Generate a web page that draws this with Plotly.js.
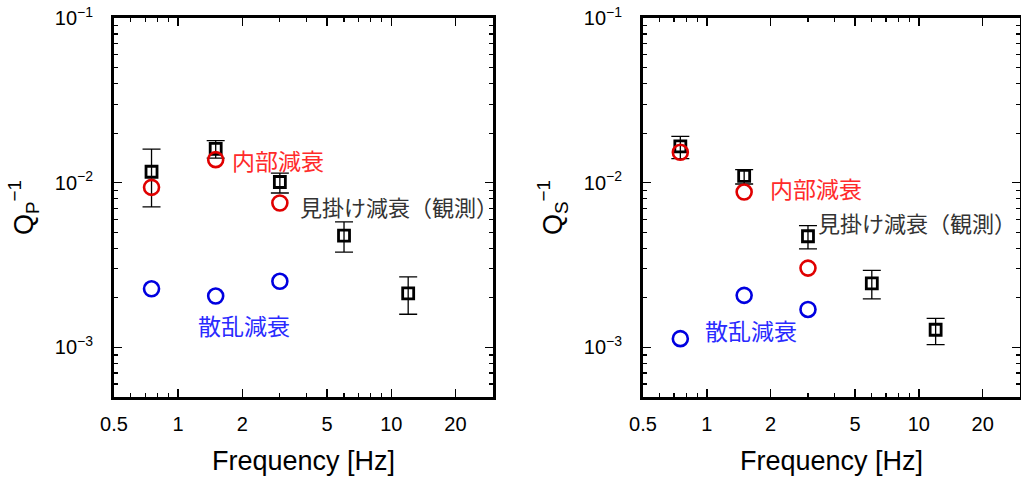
<!DOCTYPE html>
<html>
<head>
<meta charset="utf-8">
<script src="https://cdn.plot.ly/plotly-3.0.1.min.js"></script>
<style>html,body{margin:0;padding:0;background:#fff;}#chart{width:1021px;height:479px;}</style>
</head>
<body>
<div id="chart"></div>
<script>
// ---- data ----
const freqApp = [0.75, 1.5, 3, 6, 12];
const freqSep = [0.75, 1.5, 3];

const qpApp   = [0.01166, 0.01607, 0.0101, 0.00477, 0.00213];
const qpAppHi = [0.0160, 0.0180, 0.01145, 0.00578, 0.00268];
const qpAppLo = [0.00713, 0.0141, 0.00866, 0.00379, 0.00159];
const qpInt   = [0.00937, 0.0138, 0.00753];
const qpSca   = [0.00227, 0.00205, 0.00252];

const qsApp   = [0.0166, 0.0110, 0.00473, 0.00245, 0.00128];
const qsAppHi = [0.0191, 0.0120, 0.00549, 0.00294, 0.00150];
const qsAppLo = [0.0140, 0.00982, 0.00396, 0.00197, 0.00104];
const qsInt   = [0.0153, 0.00878, 0.00303];
const qsSca   = [0.00113, 0.00207, 0.00170];

const xTickVals = [0.5, 1, 2, 5, 10, 20];
const xTickText = ['0.5', '1', '2', '5', '10', '20'];
const xMinorVals = [0.6, 0.7, 0.8, 0.9, 3, 4, 6, 7, 8, 9];
const yTickVals = [0.001, 0.01, 0.1];
const yTickText = ['10<sup>−3</sup>', '10<sup>−2</sup>', '10<sup>−1</sup>'];
const yMinorVals = [0.0006, 0.0007, 0.0008, 0.0009,
  0.002, 0.003, 0.004, 0.005, 0.006, 0.007, 0.008, 0.009,
  0.02, 0.03, 0.04, 0.05, 0.06, 0.07, 0.08, 0.09];

const labelInt = '内部減衰';
const labelApp = '見掛け減衰（観測）';
const labelSca = '散乱減衰';

// ---- traces ----
function appTrace(y, hi, lo, xa, ya) {
  return {
    x: freqApp, y: y, xaxis: xa, yaxis: ya, type: 'scatter', mode: 'markers',
    marker: {symbol: 'square-open', size: 11, color: '#000', line: {width: 2.8, color: '#000'}},
    error_y: {type: 'data', symmetric: false,
      array: y.map((v, i) => hi[i] - v), arrayminus: y.map((v, i) => v - lo[i]),
      color: '#000', thickness: 1.3, width: 9},
    showlegend: false, cliponaxis: false
  };
}
function circTrace(x, y, color, xa, ya) {
  return {
    x: x, y: y, xaxis: xa, yaxis: ya, type: 'scatter', mode: 'markers',
    marker: {symbol: 'circle-open', size: 15, color: color, line: {width: 2.6, color: color}},
    showlegend: false, cliponaxis: false
  };
}

const data = [
  appTrace(qpApp, qpAppHi, qpAppLo, 'x', 'y'),
  circTrace(freqSep, qpInt, '#e00000', 'x', 'y'),
  circTrace(freqSep, qpSca, '#0000e0', 'x', 'y'),
  appTrace(qsApp, qsAppHi, qsAppLo, 'x2', 'y2'),
  circTrace(freqSep, qsInt, '#e00000', 'x2', 'y2'),
  circTrace(freqSep, qsSca, '#0000e0', 'x2', 'y2')
];

const tickFont = {family: 'Liberation Sans, Arial, sans-serif', size: 20, color: '#000'};
const titleFont = {family: 'Liberation Sans, Arial, sans-serif', size: 27, color: '#000'};

function xAxis(domain, anchor) {
  return {
    type: 'log', domain: domain, anchor: anchor,
    range: [Math.log10(0.5), Math.log10(30)],
    tickmode: 'array', tickvals: xTickVals, ticktext: xTickText,
    ticks: 'inside', ticklen: 8, tickwidth: 1.5, tickcolor: '#000',
    minor: {tickmode: 'array', tickvals: xMinorVals, ticks: 'inside', ticklen: 4, tickwidth: 1.2, tickcolor: '#000'},
    showline: true, linewidth: 3, linecolor: '#000', mirror: 'ticks',
    showgrid: false, zeroline: false, tickfont: tickFont, ticklabelstandoff: 7,
    title: {text: 'Frequency [Hz]', font: titleFont, standoff: 18}
  };
}
function yAxis(anchor, titleText) {
  return {
    type: 'log', domain: [0.1712, 0.9624], anchor: anchor,
    range: [Math.log10(0.0005), -1],
    tickmode: 'array', tickvals: yTickVals, ticktext: yTickText,
    ticks: 'inside', ticklen: 8, tickwidth: 1.5, tickcolor: '#000',
    minor: {tickmode: 'array', tickvals: yMinorVals, ticks: 'inside', ticklen: 4, tickwidth: 1.2, tickcolor: '#000'},
    showline: true, linewidth: 3, linecolor: '#000', mirror: 'ticks',
    showgrid: false, zeroline: false, tickfont: tickFont, ticklabelstandoff: 14,
    title: {text: titleText, font: titleFont, standoff: 14}
  };
}

const jp = 'Noto Sans CJK JP, sans-serif';
function ann(xref, yref, x, y, text, color, size) {
  return {xref: xref, yref: yref, x: x, y: y, text: text, showarrow: false,
    xanchor: 'left', yanchor: 'middle', font: {family: jp, size: size, color: color}};
}

const layout = {
  width: 1021, height: 479,
  margin: {l: 0, r: 0, t: 0, b: 0},
  paper_bgcolor: '#fff', plot_bgcolor: '#fff',
  showlegend: false,
  xaxis: xAxis([114 / 1021, 493 / 1021], 'y'),
  yaxis: yAxis('x', 'Q<sub>P</sub><sup>−1</sup>'),
  xaxis2: xAxis([643 / 1021, 1020 / 1021], 'y2'),
  yaxis2: yAxis('x2', 'Q<sub>S</sub><sup>−1</sup>'),
  annotations: [
    ann('x', 'y', 0.245, -1.865, labelInt, '#ff2a2a', 23),
    ann('x', 'y', 0.562, -2.144, labelApp, '#333', 22),
    ann('x', 'y', 0.086, -2.861, labelSca, '#2a2aff', 23),
    ann('x2', 'y2', 0.287, -2.032, labelInt, '#ff2a2a', 23),
    ann('x2', 'y2', 0.515, -2.241, labelApp, '#333', 22),
    ann('x2', 'y2', -0.019, -2.897, labelSca, '#2a2aff', 23)
  ]
};

Plotly.newPlot('chart', data, layout, {staticPlot: true, displayModeBar: false});
</script>
</body>
</html>
